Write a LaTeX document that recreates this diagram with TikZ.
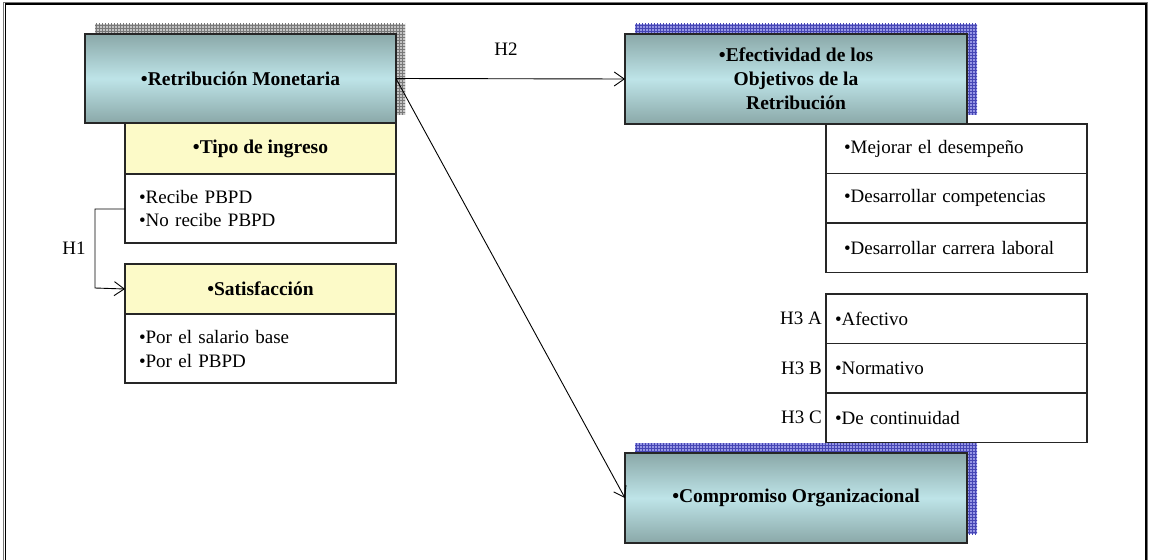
\documentclass[tikz,border=0pt]{standalone}
\usepackage{fontspec}
\setmainfont{Liberation Serif}
\usetikzlibrary{arrows.meta,patterns}
\definecolor{tealtop}{RGB}{138,168,168}
\definecolor{tealmid}{RGB}{190,228,232}
\definecolor{ylw}{RGB}{252,250,200}
\definecolor{shgrayback}{RGB}{195,195,195}
\definecolor{shgray}{RGB}{120,120,120}
\definecolor{shblueback}{RGB}{150,150,228}
\definecolor{shblue}{RGB}{70,70,180}
\begin{document}
\begin{tikzpicture}[x=1pt,y=-1pt,
  font=\fontsize{19}{24}\selectfont,
  bluebox/.style={draw=black!85, line width=1.2pt, top color=tealtop, bottom color=tealtop, middle color=tealmid,
    inner sep=0pt, outer sep=0pt, font=\fontsize{19.5}{24}\selectfont\bfseries, align=center},
  ylwbox/.style={draw=black!85, line width=1.2pt, fill=ylw, inner sep=0pt, outer sep=0pt,
    font=\fontsize{19.5}{24}\selectfont\bfseries},
  listbox/.style={draw=black!85, line width=1.2pt, fill=white, outer sep=0pt, inner ysep=0pt, align=left},
  grayshadow/.style={fill=shgrayback, postaction={pattern=grid, pattern color=shgray}},
  blueshadow/.style={fill=shblueback, postaction={pattern=grid, pattern color=shblue}},
  conn/.style={draw=black, line width=0.9pt, -{Straight Barb[length=10pt,width=14pt,line width=0.9pt]}},
  hlabel/.style={inner sep=0pt}
]
\useasboundingbox (0,0) rectangle (1150,559);
% frame
\draw[shgray, line width=1pt] (3.5,562) -- (3.5,2.5) -- (1147.5,2.5) -- (1147.5,562);
\draw[black, line width=1.3pt] (5.5,562) -- (5.5,4) -- (1146,4) -- (1146,562);

% shadows
\path[grayshadow] (95,24) rectangle (405,115);
\path[blueshadow] (635,24) rectangle (977,115);
\path[blueshadow] (635,443) rectangle (977,534);

% left column
\node[bluebox, minimum width=311, minimum height=89] (ret) at (240.5,78.5) {•Retribución Monetaria};
\node[ylwbox, minimum width=271, minimum height=51, anchor=north west] (tipo) at (125,123) {•Tipo de ingreso};
\node[listbox, minimum height=69, text width=243, inner xsep=14, anchor=north west] (tipol) at (125,174) {•Recibe PBPD\\•No recibe PBPD};
\node[ylwbox, minimum width=271, minimum height=50, anchor=north west] (sat) at (125,264) {•Satisfacción};
\node[listbox, minimum height=69, text width=243, inner xsep=14, anchor=north west] (satl) at (125,314) {•Por el salario base\\•Por el PBPD};

% right column
\node[bluebox, minimum width=342, minimum height=90] (efe) at (796,79) {•Efectividad de los\\Objetivos de la\\Retribución};
\node[listbox, minimum height=49.5, text width=225, inner xsep=18, anchor=north west] (o1) at (826,124) {•Mejorar el desempeño};
\node[listbox, minimum height=49.5, text width=225, inner xsep=18, anchor=north west] (o2) at (826,173.5) {•Desarrollar competencias};
\node[listbox, minimum height=49.5, text width=225, inner xsep=18, anchor=north west] (o3) at (826,223) {•Desarrollar carrera laboral};

\node[listbox, minimum height=49.5, text width=243, inner xsep=9, anchor=north west] (c1) at (826,294) {•Afectivo};
\node[listbox, minimum height=49.5, text width=243, inner xsep=9, anchor=north west] (c2) at (826,343.5) {•Normativo};
\node[listbox, minimum height=49.5, text width=243, inner xsep=9, anchor=north west] (c3) at (826,393) {•De continuidad};
\node[hlabel, anchor=east] (la) at ([xshift=-4]c1.west) {H3 A};
\node[hlabel, anchor=east] (lb) at ([xshift=-4]c2.west) {H3 B};
\node[hlabel, anchor=east] (lc) at ([xshift=-4]c3.west) {H3 C};

\node[bluebox, minimum width=342, minimum height=90] (com) at (796,498) {•Compromiso Organizacional};

% connectors
\coordinate (h1a) at (95,209);
\coordinate (h1b) at (95,288);
\draw[conn] (tipol.west |- h1a) -- (h1a) -- (h1b) -- (sat.west);
\node[hlabel] (h1) at (74,248) {H1};
\draw[conn] (ret.east) -- (efe.west);
\node[hlabel] (h2) at (506,49) {H2};
\draw[conn] (ret.east) -- (com.west);
\end{tikzpicture}
\end{document}
